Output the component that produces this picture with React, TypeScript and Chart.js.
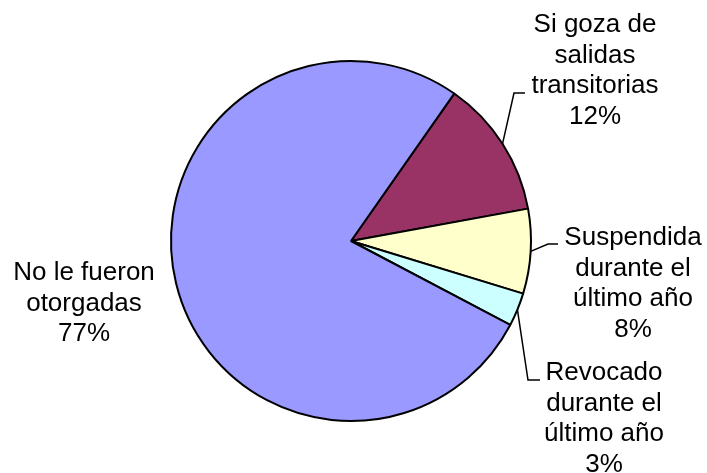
import React, { useEffect, useRef } from "react";
import { Chart, registerables } from "chart.js";

Chart.register(...registerables);

const categories: string[][] = [
  ["Si goza de", "salidas", "transitorias"],
  ["Suspendida", "durante el", "último año"],
  ["Revocado", "durante el", "último año"],
  ["No le fueron", "otorgadas"],
];
const values: number[] = [12.4, 7.6, 3.0, 77.0];
const colors: string[] = ["#993366", "#FFFFCC", "#CCFFFF", "#9999FF"];

// label layout, offsets from pie center: text center x, first baseline y, leader elbow, leader end
const labelLayout = [
  { tx: 244, ty: -209, elbow: [163, -148], end: [174, -148] },
  { tx: 282, ty: 4, elbow: [197, 3], end: [207, 3] },
  { tx: 253, ty: 139, elbow: [177, 139], end: [189, 139] },
  { tx: -267, ty: 39, elbow: null, end: null },
];

const FONT = "26px 'Liberation Sans', Arial, sans-serif";
const LINE_H = 30.5;

const labelPlugin = {
  id: "pieLabels",
  afterDraw(chart: any) {
    const ctx = chart.ctx;
    const meta = chart.getDatasetMeta(0);
    const data = chart.data.datasets[0].data as number[];
    const total = data.reduce((a, b) => a + b, 0);
    ctx.save();
    meta.data.forEach((arc: any, i: number) => {
      const { x, y, startAngle, endAngle, outerRadius } = arc.getProps(
        ["x", "y", "startAngle", "endAngle", "outerRadius"],
        true
      );
      const lay = labelLayout[i];
      const lines = [...categories[i], Math.round((data[i] / total) * 100) + "%"];
      if (lay.elbow && lay.end) {
        const mid = (startAngle + endAngle) / 2;
        ctx.beginPath();
        ctx.strokeStyle = "#000";
        ctx.lineWidth = 1.5;
        ctx.moveTo(x + Math.cos(mid) * outerRadius, y + Math.sin(mid) * outerRadius);
        ctx.lineTo(x + lay.elbow[0], y + lay.elbow[1]);
        ctx.lineTo(x + lay.end[0], y + lay.end[1]);
        ctx.stroke();
      }
      ctx.fillStyle = "#000";
      ctx.font = FONT;
      ctx.textAlign = "center";
      ctx.textBaseline = "alphabetic";
      lines.forEach((t, k) => {
        ctx.fillText(t, x + lay.tx, y + lay.ty + k * LINE_H);
      });
    });
    ctx.restore();
  },
};

export default function App() {
  const ref = useRef<HTMLCanvasElement | null>(null);
  useEffect(() => {
    if (!ref.current) return;
    const chart = new Chart(ref.current, {
      type: "pie",
      data: {
        labels: categories.map((c) => c.join(" ")),
        datasets: [
          {
            data: values,
            backgroundColor: colors,
            borderColor: "#000",
            borderWidth: 2,
          },
        ],
      },
      options: {
        animation: false,
        responsive: false,
        rotation: 35,
        radius: 180,
        layout: { padding: { left: 0, right: 5, top: 9, bottom: 0 } },
        plugins: {
          legend: { display: false },
          tooltip: { enabled: false },
        },
      },
      plugins: [labelPlugin],
    });
    return () => chart.destroy();
  }, []);
  return (
    <div style={{ position: "fixed", left: 0, top: 0, width: 707, height: 473, background: "#fff" }}>
      <canvas ref={ref} width={707} height={473} />
    </div>
  );
}
